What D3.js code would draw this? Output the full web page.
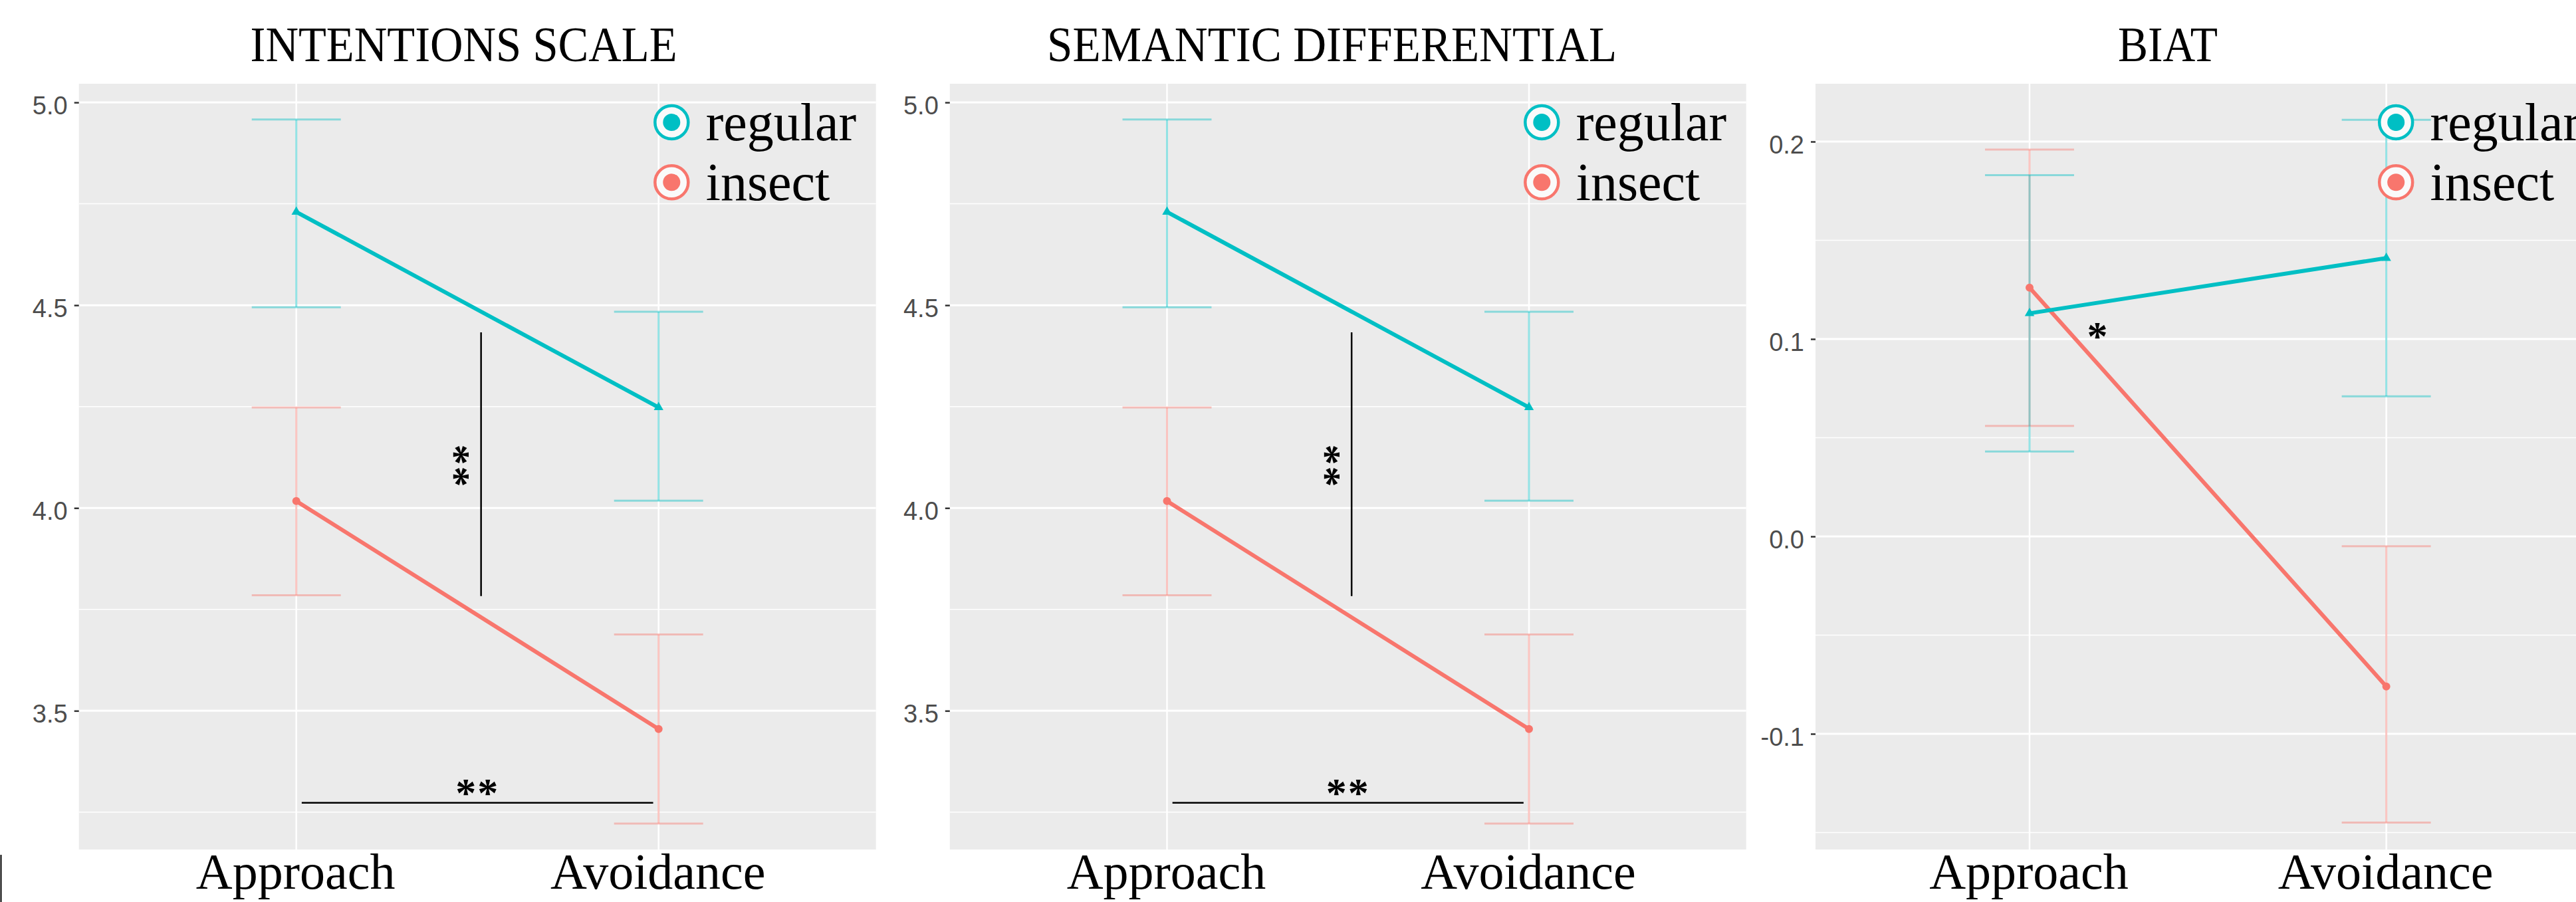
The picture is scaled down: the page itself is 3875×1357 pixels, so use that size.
<!DOCTYPE html>
<html>
<head>
<meta charset="utf-8">
<script src="https://cdn.jsdelivr.net/npm/d3@7"></script>
<style>
  html, body { margin: 0; padding: 0; background: #ffffff; }
  svg { display: block; }
</style>
</head>
<body>
<svg id="chart" width="3875" height="1357"></svg>
<script>
// ---------------- DATA ----------------
const categories = ["Approach", "Avoidance"];
const groups = ["regular", "insect"];
const titles = ["INTENTIONS SCALE", "SEMANTIC DIFFERENTIAL", "BIAT"];

// Intentions scale
const intentRegularMean = [4.730, 4.248];
const intentRegularLow  = [4.495, 4.018];
const intentRegularHigh = [4.958, 4.484];
const intentInsectMean  = [4.017, 3.455];
const intentInsectLow   = [3.785, 3.222];
const intentInsectHigh  = [4.248, 3.688];

// Semantic differential
const semRegularMean = [4.730, 4.248];
const semRegularLow  = [4.495, 4.018];
const semRegularHigh = [4.958, 4.484];
const semInsectMean  = [4.017, 3.455];
const semInsectLow   = [3.785, 3.222];
const semInsectHigh  = [4.248, 3.688];

// BIAT
const biatRegularMean = [0.113, 0.141];
const biatRegularLow  = [0.043, 0.071];
const biatRegularHigh = [0.183, 0.211];
const biatInsectMean  = [0.126, -0.076];
const biatInsectLow   = [0.056, -0.145];
const biatInsectHigh  = [0.196, -0.005];

// Tick values
const scaleMajorTicks = [3.5, 4.0, 4.5, 5.0];
const scaleMinorTicks = [3.25, 3.75, 4.25, 4.75];
const biatMajorTicks = [-0.1, 0.0, 0.1, 0.2];
const biatMinorTicks = [-0.15, -0.05, 0.05, 0.15];

// Significance annotations (data coordinates)
const scaleSigVLine = [1.51, 3.783, 4.433];   // x, y0, y1
const scaleSigVText = [1.465, 4.103, "**"];   // x, y, label
const scaleSigHLine = [1.015, 1.985, 3.273];  // x0, x1, y
const scaleSigHText = [1.5, 3.321, "**"];
const biatSigText = [1.19, 0.106, "*"];

// ---------------- STYLE / LAYOUT ----------------
const colors = { regular: "#00BFC4", insect: "#F8766D" };
const serif = "'Liberation Serif', 'Times New Roman', serif";
const sans = "'Liberation Sans', Arial, sans-serif";
const plotTop = 126, plotBottom = 1278;

function series(rm, rl, rh, im, il, ih) {
  return {
    regular: categories.map((c, i) => ({ cat: c, mean: rm[i], low: rl[i], high: rh[i] })),
    insect:  categories.map((c, i) => ({ cat: c, mean: im[i], low: il[i], high: ih[i] }))
  };
}

const panels = [
  { title: titles[0], titleX: 697.6, titleLen: 642,
    left: 118.7, right: 1317.7, yDomain: [3.158, 5.046],
    major: scaleMajorTicks, minor: scaleMinorTicks,
    data: series(intentRegularMean, intentRegularLow, intentRegularHigh, intentInsectMean, intentInsectLow, intentInsectHigh),
    sig: "scale" },
  { title: titles[1], titleX: 2003.6, titleLen: 857,
    left: 1428.8, right: 2626.7, yDomain: [3.158, 5.046],
    major: scaleMajorTicks, minor: scaleMinorTicks,
    data: series(semRegularMean, semRegularLow, semRegularHigh, semInsectMean, semInsectLow, semInsectHigh),
    sig: "scale" },
  { title: titles[2], titleX: 3261, titleLen: 150,
    left: 2731, right: 3911.6, yDomain: [-0.1586, 0.2293],
    major: biatMajorTicks, minor: biatMinorTicks,
    data: series(biatRegularMean, biatRegularLow, biatRegularHigh, biatInsectMean, biatInsectLow, biatInsectHigh),
    sig: "biat" }
];

const svg = d3.select("#chart");

// small artefact line at left edge
svg.append("line").attr("x1", 1.5).attr("x2", 1.5).attr("y1", 1286).attr("y2", 1357)
  .attr("stroke", "#000").attr("stroke-width", 2);

panels.forEach(p => {
  const g = svg.append("g");
  const x = d3.scalePoint().domain(categories).range([p.left, p.right]).padding(0.6);
  const xv = v => x(categories[0]) + (v - 1) * x.step();
  const y = d3.scaleLinear().domain(p.yDomain).range([plotBottom, plotTop]);

  // title
  g.append("text").attr("x", p.titleX).attr("y", 91.5)
    .attr("text-anchor", "middle")
    .attr("font-family", serif).attr("font-size", 74)
    .attr("textLength", p.titleLen).attr("lengthAdjust", "spacingAndGlyphs")
    .attr("fill", "#000").text(p.title);

  // panel background
  g.append("rect").attr("x", p.left).attr("y", plotTop)
    .attr("width", p.right - p.left).attr("height", plotBottom - plotTop)
    .attr("fill", "#EBEBEB");

  // minor grid
  g.selectAll(".minor").data(p.minor).enter().append("line")
    .attr("x1", p.left).attr("x2", p.right)
    .attr("y1", d => y(d)).attr("y2", d => y(d))
    .attr("stroke", "#fff").attr("stroke-width", 1.5);
  // major grid
  g.selectAll(".major").data(p.major).enter().append("line")
    .attr("x1", p.left).attr("x2", p.right)
    .attr("y1", d => y(d)).attr("y2", d => y(d))
    .attr("stroke", "#fff").attr("stroke-width", 3);
  // vertical grid
  g.selectAll(".vgrid").data(categories).enter().append("line")
    .attr("x1", d => x(d)).attr("x2", d => x(d))
    .attr("y1", plotTop).attr("y2", plotBottom)
    .attr("stroke", "#fff").attr("stroke-width", 2.5);

  // y axis
  const ax = g.append("g").attr("transform", `translate(${p.left},0)`)
    .call(d3.axisLeft(y).tickValues(p.major).tickFormat(d => d.toFixed(1)).tickSize(7).tickPadding(10));
  ax.select(".domain").remove();
  ax.selectAll(".tick line").attr("stroke", "#333").attr("stroke-width", 2.5);
  ax.selectAll(".tick text").attr("font-family", sans).attr("font-size", 38)
    .attr("fill", "#4D4D4D").attr("dy", "0.45em");

  // x labels
  g.selectAll(".xlab").data(categories).enter().append("text")
    .attr("x", d => x(d) - 1).attr("y", 1337)
    .attr("text-anchor", "middle").attr("font-family", serif).attr("font-size", 76)
    .attr("fill", "#000").text(d => d);

  // error bars
  const drawOrder = ["insect", "regular"];
  drawOrder.forEach(k => {
    const eg = g.append("g").attr("stroke", colors[k]).attr("stroke-opacity", 0.42).attr("stroke-width", 3);
    p.data[k].forEach(d => {
      const cx = x(d.cat);
      eg.append("line").attr("x1", cx).attr("x2", cx).attr("y1", y(d.low)).attr("y2", y(d.high));
      eg.append("line").attr("x1", cx - 67).attr("x2", cx + 67).attr("y1", y(d.low)).attr("y2", y(d.low));
      eg.append("line").attr("x1", cx - 67).attr("x2", cx + 67).attr("y1", y(d.high)).attr("y2", y(d.high));
    });
  });

  // mean lines + points
  const line = d3.line().x(d => x(d.cat)).y(d => y(d.mean));
  drawOrder.forEach(k => {
    g.append("path").datum(p.data[k]).attr("d", line)
      .attr("fill", "none").attr("stroke", colors[k]).attr("stroke-width", 6);
    if (k === "regular") {
      g.selectAll(null).data(p.data[k]).enter().append("path")
        .attr("d", d3.symbol().type(d3.symbolTriangle).size(90))
        .attr("transform", d => `translate(${x(d.cat)},${y(d.mean)})`)
        .attr("fill", colors[k]);
    } else {
      g.selectAll(null).data(p.data[k]).enter().append("circle")
        .attr("cx", d => x(d.cat)).attr("cy", d => y(d.mean)).attr("r", 6)
        .attr("fill", colors[k]);
    }
  });

  // significance annotations
  const starFont = { size: 62, weight: "bold" };
  if (p.sig === "scale") {
    g.append("line").attr("x1", xv(scaleSigVLine[0])).attr("x2", xv(scaleSigVLine[0]))
      .attr("y1", y(scaleSigVLine[1])).attr("y2", y(scaleSigVLine[2]))
      .attr("stroke", "#000").attr("stroke-width", 2.5);
    const vx = xv(scaleSigVText[0]), vy = y(scaleSigVText[1]);
    g.append("text").attr("transform", `translate(${vx},${vy}) rotate(90)`)
      .attr("text-anchor", "middle").attr("dy", "0.55em")
      .attr("font-family", serif).attr("font-size", starFont.size).attr("font-weight", starFont.weight)
      .attr("letter-spacing", 2)
      .attr("fill", "#000").text(scaleSigVText[2]);
    g.append("line").attr("x1", xv(scaleSigHLine[0])).attr("x2", xv(scaleSigHLine[1]))
      .attr("y1", y(scaleSigHLine[2])).attr("y2", y(scaleSigHLine[2]))
      .attr("stroke", "#000").attr("stroke-width", 2.5);
    g.append("text").attr("x", xv(scaleSigHText[0])).attr("y", y(scaleSigHText[1]))
      .attr("text-anchor", "middle").attr("dy", "0.55em")
      .attr("font-family", serif).attr("font-size", starFont.size).attr("font-weight", starFont.weight)
      .attr("letter-spacing", 2)
      .attr("fill", "#000").text(scaleSigHText[2]);
  } else {
    g.append("text").attr("x", xv(biatSigText[0])).attr("y", y(biatSigText[1]))
      .attr("text-anchor", "middle").attr("dy", "0.55em")
      .attr("font-family", serif).attr("font-size", starFont.size).attr("font-weight", starFont.weight)
      .attr("fill", "#000").text(biatSigText[2]);
  }

  // legend
  const lx = p.right - 307.4;
  const ly = [184, 274.3];
  groups.forEach((k, i) => {
    g.append("circle").attr("cx", lx).attr("cy", ly[i]).attr("r", 25)
      .attr("fill", "#FAFAFA").attr("stroke", colors[k]).attr("stroke-width", 4.5);
    g.append("circle").attr("cx", lx).attr("cy", ly[i]).attr("r", 13)
      .attr("fill", colors[k]);
    g.append("text").attr("x", lx + 51.4).attr("y", ly[i] + 26.5)
      .attr("font-family", serif).attr("font-size", 80)
      .attr("fill", "#000").text(k);
  });
});
</script>
</body>
</html>
